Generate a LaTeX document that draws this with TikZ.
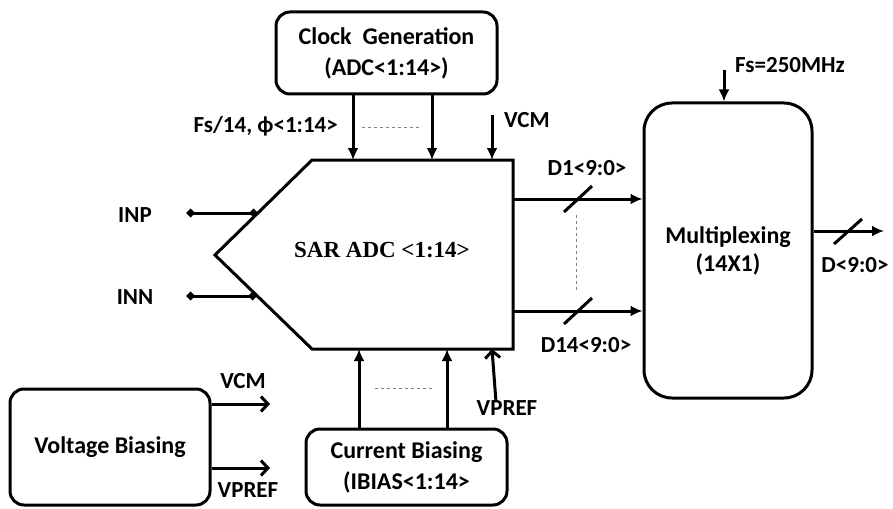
\documentclass[tikz,border=0pt]{standalone}
\usepackage{fontspec}
\setmainfont{Carlito}
\newfontfamily\sarfont{Liberation Serif}
\usetikzlibrary{arrows.meta}

\tikzset{
  blk/.style={draw, line width=3pt, rounded corners=14pt, align=center,
    inner sep=0pt, font=\fontsize{24}{31}\selectfont\bfseries},
  lbl/.style={font=\fontsize{23}{26}\selectfont\bfseries, inner sep=0pt},
  sig/.style={line width=3pt, -{Latex[length=12pt,width=11pt]}},
  opensig/.style={line width=3pt, -{Straight Barb[length=7pt,width=15pt,line width=3pt]}},
  pin/.style={line width=3pt, {Diamond[length=9pt,width=9pt]}-{Diamond[length=9pt,width=9pt]}},
  dots/.style={gray, thin, dashed},
  slash/.style={line width=3pt},
}

\begin{document}
\begin{tikzpicture}[x=1pt, y=-1pt]
  \useasboundingbox (0,0) rectangle (893,508);

  % Blocks
  \node[blk, minimum width=221pt, minimum height=82pt] (clk) at (386.5,53)
    {Clock\ \ Generation\\(ADC<1:14>)};
  \node[blk, rounded corners=28pt, minimum width=168pt, minimum height=295pt,
    font=\fontsize{24}{28}\selectfont\bfseries] (mux) at (728,250.5)
    {Multiplexing\\(14X1)};
  \node[blk, minimum width=201pt, minimum height=76pt] (ibias) at (406.5,467)
    {Current Biasing\\(IBIAS<1:14>};
  \node[blk, minimum width=200pt, minimum height=116pt] (vbias) at (110,447)
    {Voltage Biasing};

  % SAR ADC outline
  \coordinate (sar-tl) at (312,160);
  \coordinate (sar-tr) at (513,160);
  \coordinate (sar-br) at (513,349);
  \coordinate (sar-bl) at (312,349);
  \coordinate (sar-tip) at (215,255);
  \draw[line width=3pt, line join=miter] (sar-tl) -- (sar-tr) -- (sar-br) -- (sar-bl) -- (sar-tip) -- cycle;
  \node[font=\sarfont\fontsize{23}{27}\selectfont\bfseries] (sar) at (382,250) {SAR ADC <1:14>};

  % Clock inputs
  \coordinate (sar-t1) at (353,160);
  \coordinate (sar-t2) at (432,160);
  \coordinate (sar-t3) at (492,160);
  \coordinate (vcm-in) at (492,115);
  \draw[sig] (clk.south -| sar-t1) -- (sar-t1);
  \draw[sig] (clk.south -| sar-t2) -- (sar-t2);
  \draw[sig] (vcm-in) -- (sar-t3);
  \draw[dots] (362,127) -- (420,127);
  \node[lbl, anchor=east] (fs14) at (338,126) {Fs/14, ϕ<1:14>};
  \node[lbl, anchor=west] (vcmtop) at (504,120) {VCM};

  % Analog inputs
  \coordinate (inp-a) at (186,213);
  \coordinate (inp-b) at (258,213);
  \coordinate (inn-a) at (186,296);
  \coordinate (inn-b) at (257,296);
  \draw[pin] (inp-a) -- (inp-b);
  \draw[pin] (inn-a) -- (inn-b);
  \node[lbl] (inp) at (135,215) {INP};
  \node[lbl] (inn) at (135,297) {INN};

  % Bias inputs
  \coordinate (sar-b1) at (359,349);
  \coordinate (sar-b2) at (447,349);
  \coordinate (sar-b3) at (492,349);
  \coordinate (vpref-in) at (496,402);
  \draw[sig] (ibias.north -| sar-b1) -- (sar-b1);
  \draw[sig] (ibias.north -| sar-b2) -- (sar-b2);
  \draw[opensig] (vpref-in) -- (sar-b3);
  \draw[dots] (375,388) -- (432,388);
  \node[lbl] (vpref-sar) at (507,408) {VPREF};

  % Voltage biasing outputs
  \coordinate (vcm-out) at (270,404);
  \coordinate (vpref-out) at (270,468);
  \draw[opensig] (vbias.east |- vcm-out) -- (vcm-out);
  \draw[opensig] (vbias.east |- vpref-out) -- (vpref-out);
  \node[lbl] (vcm-lbl) at (243,381) {VCM};
  \node[lbl] (vpref-lbl) at (248,490) {VPREF};

  % Data buses
  \coordinate (d1) at (513,199);
  \coordinate (d14) at (513,311);
  \draw[sig] (d1) -- (d1 -| mux.west);
  \draw[sig] (d14) -- (d14 -| mux.west);
  \draw[slash] (564,212) -- (592,186);
  \draw[slash] (564,324) -- (592,298);
  \draw[dots] (576,215) -- (576,292);
  \node[lbl] (d1-lbl) at (587,168) {D1<9:0>};
  \node[lbl] (d14-lbl) at (586,345) {D14<9:0>};

  % Sampling clock and output
  \coordinate (fs-in) at (724,70);
  \draw[sig] (fs-in) -- (fs-in |- mux.north);
  \node[lbl] (fs-lbl) at (790,65) {Fs=250MHz};
  \coordinate (dout) at (884,231);
  \draw[sig] (mux.east |- dout) -- (dout);
  \draw[slash] (834,244) -- (862,219);
  \node[lbl] (dout-lbl) at (855,265) {D<9:0>};
\end{tikzpicture}
\end{document}
